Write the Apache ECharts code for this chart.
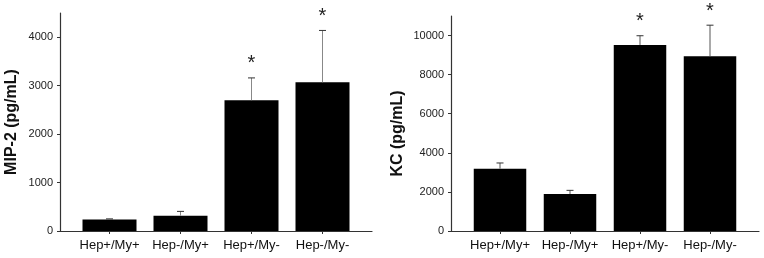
<!DOCTYPE html>
<html>
<head>
<meta charset="utf-8">
<script src="https://cdn.jsdelivr.net/npm/echarts@6/dist/echarts.min.js"></script>
<style>
  html, body { margin: 0; padding: 0; background: #fff; }
  #main { width: 764px; height: 258px; }
</style>
</head>
<body>
<div id="main"></div>
<script>
var categories = ['Hep+/My+', 'Hep-/My+', 'Hep+/My-', 'Hep-/My-'];

// MIP-2 (left panel)
var mipMean = [235, 315, 2700, 3070];
var mipUpper = [250, 405, 3160, 4140];
var mipStar = [false, false, true, true];
var mipTicks = [0, 1000, 2000, 3000, 4000];

// KC (right panel)
var kcMean = [3190, 1895, 9520, 8940];
var kcUpper = [3480, 2080, 9990, 10530];
var kcStar = [false, false, true, true];
var kcTicks = [0, 2000, 4000, 6000, 8000, 10000];

var FONT = '"Liberation Sans", Arial, sans-serif';
var myChart = echarts.init(document.getElementById('main'), null, {renderer: 'canvas'});

function errData(mean, upper, star) {
    var out = [];
    for (var i = 0; i < mean.length; i++) {
        out.push([i, mean[i], upper[i], star[i] ? 1 : 0]);
    }
    return out;
}

function errRender(lineColor) {
    return function (params, api) {
        var lo = api.coord([api.value(0), api.value(1)]);
        var hi = api.coord([api.value(0), api.value(2)]);
        var kids = [
            {type: 'line', shape: {x1: lo[0], y1: lo[1], x2: hi[0], y2: hi[1]},
                style: {stroke: lineColor, lineWidth: 1}},
            {type: 'line', shape: {x1: hi[0] - 3.5, y1: hi[1], x2: hi[0] + 3.5, y2: hi[1]},
                style: {stroke: '#333', lineWidth: 1}}
        ];
        if (api.value(3)) {
            kids.push({type: 'text', x: hi[0], y: hi[1] - 14,
                style: {text: '*', font: '20px ' + FONT, fill: '#222', align: 'center', verticalAlign: 'middle'}});
        }
        return {type: 'group', children: kids};
    };
}

var axisLine = {show: true, lineStyle: {color: '#333', width: 1.2}};
var tickLbl = {color: '#222', fontSize: 11, fontFamily: FONT, margin: 7, formatter: function (v) { return String(v); }};
var catLbl = {color: '#111', fontSize: 13, fontFamily: FONT, margin: 8, interval: 0};

var option = {
    animation: false,
    grid: [
        {left: 60, right: 392, top: 13, bottom: 27},   // frame left
        {left: 74, right: 406, top: 13, bottom: 27},   // plot left
        {left: 451, right: 5, top: 16, bottom: 27},    // frame right
        {left: 465, right: 19, top: 16, bottom: 27}    // plot right
    ],
    xAxis: [
        {gridIndex: 0, type: 'value', min: 0, max: 1, axisLine: axisLine, axisTick: {show: false}, axisLabel: {show: false}, splitLine: {show: false}},
        {gridIndex: 1, type: 'category', data: categories, axisLine: {show: false},
            axisTick: {show: true, alignWithLabel: true, length: 3, lineStyle: {color: '#333'}},
            axisLabel: catLbl},
        {gridIndex: 2, type: 'value', min: 0, max: 1, axisLine: axisLine, axisTick: {show: false}, axisLabel: {show: false}, splitLine: {show: false}},
        {gridIndex: 3, type: 'category', data: categories, axisLine: {show: false},
            axisTick: {show: true, alignWithLabel: true, length: 3, lineStyle: {color: '#333'}},
            axisLabel: catLbl}
    ],
    yAxis: [
        {gridIndex: 0, type: 'value', min: 0, max: 4500, axisLine: axisLine,
            axisTick: {show: true, length: 3, customValues: mipTicks, lineStyle: {color: '#333'}},
            axisLabel: Object.assign({customValues: mipTicks}, tickLbl),
            splitLine: {show: false},
            name: 'MIP-2 (pg/mL)', nameLocation: 'middle', nameGap: 40,
            nameTextStyle: {fontSize: 16, fontWeight: 'bold', color: '#111', fontFamily: FONT}},
        {gridIndex: 1, type: 'value', min: 0, max: 4500, show: false},
        {gridIndex: 2, type: 'value', min: 0, max: 11000, axisLine: axisLine,
            axisTick: {show: true, length: 3, customValues: kcTicks, lineStyle: {color: '#333'}},
            axisLabel: Object.assign({customValues: kcTicks}, tickLbl),
            splitLine: {show: false},
            name: 'KC (pg/mL)', nameLocation: 'middle', nameGap: 45,
            nameTextStyle: {fontSize: 16, fontWeight: 'bold', color: '#111', fontFamily: FONT, padding: [0, 20, 0, 0]}},
        {gridIndex: 3, type: 'value', min: 0, max: 11000, show: false}
    ],
    series: [
        {type: 'bar', xAxisIndex: 1, yAxisIndex: 1, data: mipMean, barWidth: 54, itemStyle: {color: '#000'}},
        {type: 'custom', xAxisIndex: 1, yAxisIndex: 1, data: errData(mipMean, mipUpper, mipStar), renderItem: errRender('#888'), z: 3},
        {type: 'bar', xAxisIndex: 3, yAxisIndex: 3, data: kcMean, barWidth: 52.5, itemStyle: {color: '#000'}},
        {type: 'custom', xAxisIndex: 3, yAxisIndex: 3, data: errData(kcMean, kcUpper, kcStar), renderItem: errRender('#555'), z: 3}
    ]
};

myChart.setOption(option);
</script>
</body>
</html>
